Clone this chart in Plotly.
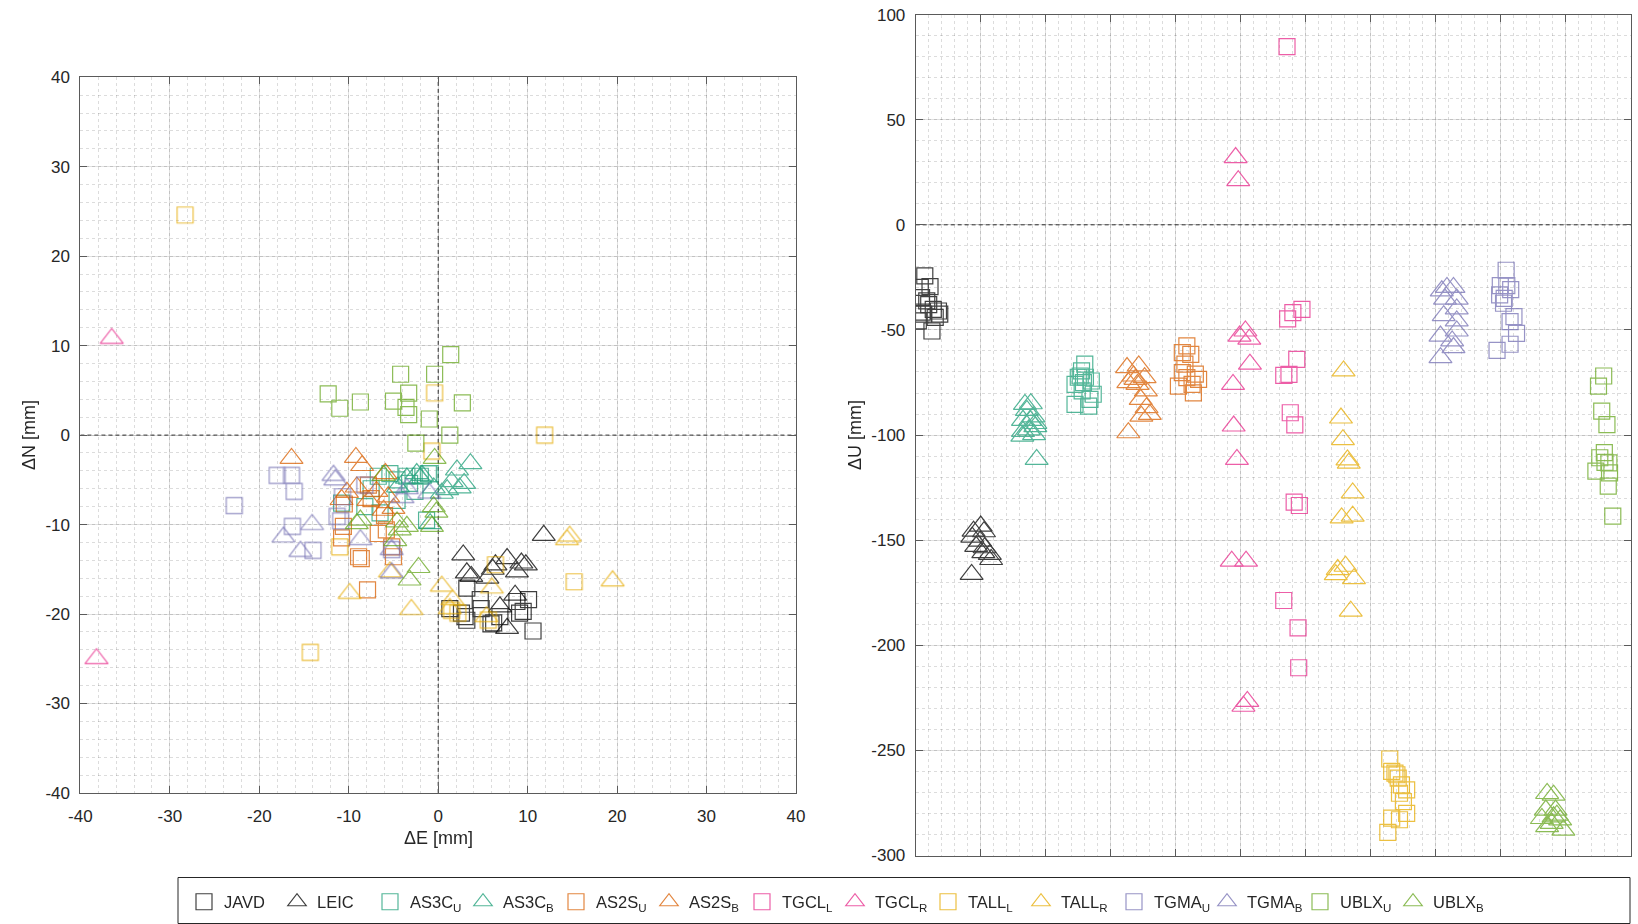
import plotly.graph_objects as go

# ---- horizontal offsets (ΔE, ΔN) in mm, per receiver/antenna setup ----
JAVD_E = [1.3, 2.6, 3.2, 4.7, 4.8, 8.8, 10.1, 9.5, 10.6, 3.2, 6.9, 6.2, 3.0, 5.9, 9.1]
JAVD_N = [-19.4, -19.9, -20.7, -18.4, -19.4, -18.6, -18.4, -19.7, -21.9, -17.1, -20.3, -21.0, -20.3, -21.1, -19.9]
LEIC_E = [11.8, 2.8, 7.7, 6.4, 9.3, 8.8, 3.2, 3.7, 6.1, 8.6, 6.9, 7.7, 5.5, 9.8]
LEIC_N = [-11.2, -13.4, -13.8, -14.5, -14.3, -15.3, -15.4, -15.8, -15.0, -17.9, -19.2, -21.6, -16.0, -14.5]
AS3CU_E = [-10.8, -6.7, -4.6, -3.2, -2.0, -0.9, -6.5, -8.2, -1.3, -4.6, -3.5, -1.1, -5.4, -7.5, -2.6]
AS3CU_N = [-7.6, -4.6, -5.0, -5.4, -4.6, -4.3, -8.7, -8.0, -9.5, -7.3, -4.6, -4.3, -4.3, -6.0, -6.3]
AS3CB_E = [3.6, 2.1, 1.5, 1.0, 2.4, -2.4, -3.5, -2.0, -0.9, 0.4, -0.5, -4.5, 2.9, -1.8]
AS3CB_N = [-3.2, -3.9, -5.2, -6.1, -5.9, -4.3, -4.8, -4.8, -9.9, -6.5, -5.9, -5.8, -5.4, -4.5]
AS2SU_E = [-10.6, -10.8, -8.9, -8.6, -6.7, -5.8, -5.2, -5.0, -7.5, -7.8, -7.9, -10.5, -6.0]
AS2SU_N = [-10.2, -11.5, -13.6, -13.8, -11.0, -10.6, -12.5, -13.6, -7.1, -5.6, -17.3, -7.7, -9.0]
AS2SB_E = [-16.4, -9.2, -8.5, -5.9, -10.2, -9.1, -6.9, -5.6, -5.0, -6.1, -7.8, -10.8]
AS2SB_N = [-2.6, -2.5, -3.4, -4.3, -6.4, -5.8, -6.3, -6.9, -8.2, -8.4, -7.3, -7.2]
TGCLL_E = []
TGCLL_N = []
TGCLR_E = [-36.5, -38.2]
TGCLR_N = [10.8, -25.0]
TALLL_E = [-28.3, -14.3, 11.9, -0.4, -0.7, 15.2, 6.4, -11.0, 2.2, 5.6, 1.5]
TALLL_N = [24.6, -24.3, 0.0, 4.7, -1.8, -16.4, -14.5, -12.5, -19.9, -20.7, -19.6]
TALLR_E = [14.4, 14.7, 19.5, 0.4, -3.0, 1.6, 1.3, 6.0, 5.4, -9.9, -5.4]
TALLR_N = [-11.7, -11.3, -16.3, -16.9, -19.5, -18.4, -19.4, -17.1, -20.3, -17.7, -15.3]
TGMAU_E = [-22.8, -18.0, -16.4, -16.1, -16.3, -14.0, -10.7, -11.3, -10.9, -5.2, -8.2]
TGMAU_N = [-7.9, -4.5, -4.5, -6.3, -10.2, -12.9, -6.9, -9.1, -9.6, -12.8, -5.6]
TGMAB_E = [-11.7, -11.5, -17.3, -14.1, -15.4, -8.7, -5.2, -3.5, -1.0, -5.2, -4.0]
TGMAB_N = [-4.5, -5.0, -11.4, -10.0, -13.0, -11.7, -12.8, -6.0, -6.5, -15.4, -7.0]
UBLXU_E = [1.4, -4.2, -0.4, -12.3, -11.0, -8.7, -5.0, -3.3, -3.6, -3.3, 2.7, -1.0, 1.3, -2.5]
UBLXU_N = [9.0, 6.8, 6.8, 4.6, 3.0, 3.7, 3.8, 4.7, 3.1, 2.3, 3.6, 1.8, 0.0, -0.9]
UBLXB_E = [-0.4, -0.2, -0.5, -0.7, -4.6, -9.1, -8.7, -2.2, -3.2, -4.3, -4.8, -6.1, -3.5]
UBLXB_N = [-2.6, -8.6, -8.0, -10.2, -9.7, -9.9, -9.5, -14.8, -16.2, -10.6, -11.8, -4.5, -10.2]

# ---- vertical offsets (ΔU) in mm against sample position ----
JAVD_T = [0.14, 0.07, 0.22, 0.09, 0.17, 0.27, 0.35, 0.37, 0.04, 0.12, 0.25, 0.30, 0.10, 0.20]
JAVD_U = [-24.3, -29.8, -29.4, -34.6, -36.2, -40.2, -41.0, -42.5, -45.7, -42.5, -50.5, -44.0, -41.5, -38.0]
LEIC_T = [1.00, 0.89, 1.05, 0.87, 0.99, 0.93, 1.06, 1.14, 1.16, 0.86, 1.04]
LEIC_U = [-143.3, -145.7, -146.0, -148.6, -150.5, -153.0, -153.6, -156.8, -159.2, -166.3, -155.9]
AS3CB_T = [1.68, 1.77, 1.71, 1.81, 1.65, 1.76, 1.84, 1.65, 1.74, 1.82, 1.64, 1.86, 1.84]
AS3CB_U = [-85.4, -85.1, -88.3, -91.4, -93.0, -93.0, -94.5, -98.3, -97.5, -99.8, -100.5, -111.6, -96.0]
AS3CU_T = [2.60, 2.55, 2.53, 2.61, 2.45, 2.58, 2.70, 2.73, 2.68, 2.45, 2.66, 2.56, 2.50]
AS3CU_U = [-66.3, -69.5, -71.9, -72.5, -75.9, -75.1, -74.3, -80.6, -83.0, -85.4, -86.2, -79.0, -72.5]
AS2SB_T = [3.25, 3.43, 3.35, 3.52, 3.27, 3.41, 3.54, 3.46, 3.55, 3.60, 3.47, 3.27, 3.38]
AS2SB_U = [-67.9, -67.1, -71.9, -72.7, -75.1, -75.9, -79.0, -83.0, -87.0, -90.2, -91.0, -98.9, -73.5]
AS2SU_T = [4.17, 4.10, 4.23, 4.14, 4.10, 4.30, 4.35, 4.04, 4.25, 4.27, 4.17]
AS2SU_U = [-57.6, -60.8, -61.6, -66.3, -70.3, -71.0, -73.5, -76.7, -75.9, -79.9, -72.7]
TGCLR_T = [4.92, 4.96, 5.07, 4.98, 5.13, 5.14, 4.88, 4.89, 4.94, 4.86, 5.08, 5.04, 5.10]
TGCLR_U = [32.0, 21.0, -50.5, -52.9, -54.4, -66.3, -75.9, -95.7, -111.6, -160.0, -160.0, -229.0, -226.7]
TGCLL_T = [5.71, 5.94, 5.80, 5.72, 5.86, 5.74, 5.66, 5.76, 5.83, 5.82, 5.90, 5.66, 5.88, 5.89]
TGCLL_U = [84.8, -40.2, -41.8, -44.7, -64.0, -71.1, -71.6, -89.4, -95.2, -131.9, -133.5, -178.7, -191.7, -210.7]
TALLR_T = [6.58, 6.54, 6.57, 6.64, 6.66, 6.72, 6.55, 6.72, 6.49, 6.61, 6.46, 6.74, 6.69]
TALLR_U = [-69.5, -91.9, -102.2, -111.8, -113.4, -127.5, -139.4, -138.6, -164.0, -162.4, -166.4, -168.3, -183.8]
TALLL_T = [7.29, 7.32, 7.37, 7.42, 7.47, 7.55, 7.44, 7.50, 7.55, 7.32, 7.44, 7.26, 7.40]
TALLL_U = [-254.1, -260.0, -260.8, -263.2, -266.4, -268.8, -270.4, -274.4, -280.0, -282.2, -283.0, -289.0, -261.6]
TGMAB_T = [8.17, 8.27, 8.09, 8.32, 8.14, 8.32, 8.12, 8.32, 8.32, 8.07, 8.25, 8.27, 8.07]
TGMAB_U = [-29.8, -29.8, -31.4, -35.3, -35.3, -40.0, -43.2, -45.7, -50.5, -52.9, -55.2, -58.4, -63.2]
TGMAU_T = [9.08, 8.99, 9.09, 9.15, 8.98, 9.04, 9.20, 9.14, 9.24, 9.14, 8.94, 9.05]
TGMAU_U = [-21.6, -28.9, -28.9, -30.8, -33.3, -37.3, -43.7, -46.0, -51.6, -56.8, -59.7, -35.0]
UBLXB_T = [9.71, 9.81, 9.69, 9.84, 9.63, 9.81, 9.91, 9.71, 9.96, 9.78, 9.86]
UBLXB_U = [-270.5, -271.3, -278.4, -278.4, -282.4, -281.6, -283.1, -286.3, -287.9, -284.7, -280.8]
UBLXU_T = [10.58, 10.50, 10.55, 10.63, 10.59, 10.52, 10.66, 10.46, 10.67, 10.65, 10.72, 10.60]
UBLXU_U = [-71.9, -76.7, -88.6, -95.0, -108.4, -110.8, -113.2, -117.2, -118.0, -124.3, -138.6, -113.0]

# ---- tick values ----
EN_TICKS = [-40, -30, -20, -10, 0, 10, 20, 30, 40]
U_TICKS = [-300, -250, -200, -150, -100, -50, 0, 50, 100]
T_TICKS = [1, 2, 3, 4, 5, 6, 7, 8, 9, 10]

# ---- legend order: label, colour, marker, data ----
SERIES = [
    ("JAVD", "#000000", "square-open", JAVD_E, JAVD_N, JAVD_T, JAVD_U),
    ("LEIC", "#000000", "triangle-up-open", LEIC_E, LEIC_N, LEIC_T, LEIC_U),
    ("AS3C<sub>U</sub>", "#1b9e77", "square-open", AS3CU_E, AS3CU_N, AS3CU_T, AS3CU_U),
    ("AS3C<sub>B</sub>", "#1b9e77", "triangle-up-open", AS3CB_E, AS3CB_N, AS3CB_T, AS3CB_U),
    ("AS2S<sub>U</sub>", "#d95f02", "square-open", AS2SU_E, AS2SU_N, AS2SU_T, AS2SU_U),
    ("AS2S<sub>B</sub>", "#d95f02", "triangle-up-open", AS2SB_E, AS2SB_N, AS2SB_T, AS2SB_U),
    ("TGCL<sub>L</sub>", "#e7298a", "square-open", TGCLL_E, TGCLL_N, TGCLL_T, TGCLL_U),
    ("TGCL<sub>R</sub>", "#e7298a", "triangle-up-open", TGCLR_E, TGCLR_N, TGCLR_T, TGCLR_U),
    ("TALL<sub>L</sub>", "#e6ab02", "square-open", TALLL_E, TALLL_N, TALLL_T, TALLL_U),
    ("TALL<sub>R</sub>", "#e6ab02", "triangle-up-open", TALLR_E, TALLR_N, TALLR_T, TALLR_U),
    ("TGMA<sub>U</sub>", "#7570b3", "square-open", TGMAU_E, TGMAU_N, TGMAU_T, TGMAU_U),
    ("TGMA<sub>B</sub>", "#7570b3", "triangle-up-open", TGMAB_E, TGMAB_N, TGMAB_T, TGMAB_U),
    ("UBLX<sub>U</sub>", "#66a61e", "square-open", UBLXU_E, UBLXU_N, UBLXU_T, UBLXU_U),
    ("UBLX<sub>B</sub>", "#66a61e", "triangle-up-open", UBLXB_E, UBLXB_N, UBLXB_T, UBLXB_U),
]

W, H = 1638, 924
FONT = "Liberation Sans, Arial, sans-serif"
TXT = "#262626"


def px_x(p):
    return p / W


def px_y(p):
    return 1 - p / H


def hyphen_labels(vals):
    return [str(v) for v in vals]


fig = go.Figure()

for name, color, symbol, e, n, t, u in SERIES:
    size = 16 if symbol.startswith("square") else 20
    marker = dict(symbol=symbol, size=size, color=color, line=dict(width=1.2, color=color))
    fig.add_trace(go.Scatter(x=e, y=n, mode="markers", name=name, legendgroup=name,
                             showlegend=False, opacity=0.75, marker=marker,
                             xaxis="x", yaxis="y"))
    fig.add_trace(go.Scatter(x=t, y=u, mode="markers", name=name, legendgroup=name,
                             showlegend=True, opacity=0.75, marker=marker,
                             xaxis="x2", yaxis="y2"))

grid_major = "rgba(38,38,38,0.14)"
grid_minor = "rgba(38,38,38,0.16)"

axis_common = dict(
    showline=True, linecolor="#5a5a5a", linewidth=1, mirror="ticks",
    ticks="inside", ticklen=7, tickcolor="#5a5a5a", tickwidth=1,
    showgrid=True, gridcolor=grid_major, gridwidth=1, zeroline=False,
    tickfont=dict(family=FONT, size=17, color=TXT),
)

fig.update_layout(
    width=W, height=H,
    margin=dict(l=0, r=0, t=0, b=0, autoexpand=False),
    paper_bgcolor="white", plot_bgcolor="white",
    font=dict(family=FONT, color=TXT),
    xaxis=dict(domain=[px_x(80.4), px_x(796)], range=[-40, 40],
               tickvals=EN_TICKS, ticktext=hyphen_labels(EN_TICKS),
               minor=dict(dtick=2, showgrid=True, gridcolor=grid_minor, griddash="dot", ticklen=0),
               anchor="y", ticklabelstandoff=8, **axis_common),
    yaxis=dict(domain=[px_y(792.9), px_y(77.3)], range=[-40, 40],
               tickvals=EN_TICKS, ticktext=hyphen_labels(EN_TICKS),
               minor=dict(dtick=2, showgrid=True, gridcolor=grid_minor, griddash="dot", ticklen=0),
               anchor="x", ticklabelstandoff=6, **axis_common),
    xaxis2=dict(domain=[px_x(915.7), px_x(1631)], range=[0, 11],
                tickvals=T_TICKS, showticklabels=False,
                minor=dict(dtick=0.2, showgrid=True, gridcolor=grid_minor, griddash="dot", ticklen=0),
                anchor="y2", **axis_common),
    yaxis2=dict(domain=[px_y(855.5), px_y(14.6)], range=[-300, 100],
                tickvals=U_TICKS, ticktext=hyphen_labels(U_TICKS),
                minor=dict(dtick=10, showgrid=True, gridcolor=grid_minor, griddash="dot", ticklen=0),
                anchor="x2", ticklabelstandoff=6, **axis_common),
    legend=dict(orientation="h", x=px_x(184), xanchor="left", y=px_y(902), yanchor="middle",
                bgcolor="rgba(0,0,0,0)", borderwidth=0,
                font=dict(family=FONT, size=16.5, color=TXT),
                entrywidth=48, entrywidthmode="pixels", itemwidth=30,
                traceorder="normal"),
    showlegend=True,
)

# dashed reference lines at zero
dash_line = dict(color="#333333", width=1, dash="4px,3px")
fig.add_shape(type="line", xref="x", yref="y", x0=0, x1=0, y0=-40, y1=40, line=dash_line, layer="below")
fig.add_shape(type="line", xref="x", yref="y", x0=-40, x1=40, y0=0, y1=0, line=dash_line, layer="below")
fig.add_shape(type="line", xref="x2", yref="y2", x0=0, x1=11, y0=0, y1=0, line=dash_line, layer="below")

# legend frame
fig.add_shape(type="rect", xref="paper", yref="paper",
              x0=px_x(178), x1=px_x(1630), y0=px_y(923.5), y1=px_y(877.5),
              line=dict(color="#262626", width=1), fillcolor="rgba(0,0,0,0)")

# axis titles
title_font = dict(family=FONT, size=18, color=TXT)
fig.add_annotation(text="ΔE [mm]", xref="paper", yref="paper", x=px_x(438.5), y=px_y(838),
                   showarrow=False, font=title_font, xanchor="center", yanchor="middle")
fig.add_annotation(text="ΔN [mm]", xref="paper", yref="paper", x=px_x(29), y=px_y(435),
                   showarrow=False, font=title_font, textangle=-90, xanchor="center", yanchor="middle")
fig.add_annotation(text="ΔU [mm]", xref="paper", yref="paper", x=px_x(855), y=px_y(435),
                   showarrow=False, font=title_font, textangle=-90, xanchor="center", yanchor="middle")

fig.write_html("out.html")
